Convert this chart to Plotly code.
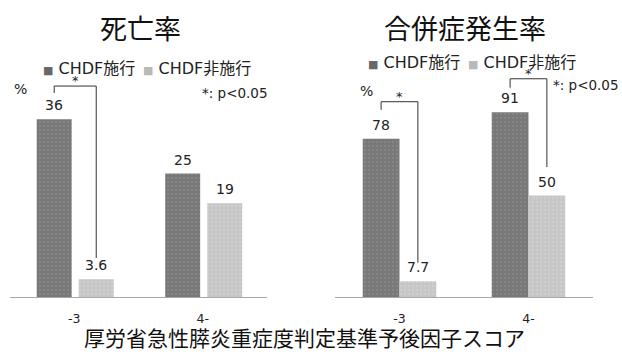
import plotly.graph_objects as go

# ---- data -------------------------------------------------------------
categories = ["-3", "4-"]
series_names = ["CHDF施行", "CHDF非施行"]
mortality_chdf = [36, 25]
mortality_no_chdf = [3.6, 19]
complication_chdf = [78, 91]
complication_no_chdf = [7.7, 50]

panel_titles = ["死亡率", "合併症発生率"]
x_title = "厚労省急性膵炎重症度判定基準予後因子スコア"
sig_note = "*: p<0.05"

# ---- styling ----------------------------------------------------------
W, H = 622, 355
FONT = "DejaVu Sans, Noto Sans CJK JP, sans-serif"
CJK = "Noto Sans CJK JP, sans-serif"
DARK, LIGHT = "#787878", "#c6c6c6"
DARK_DOT, LIGHT_DOT = "#929292", "#dadada"
DARK_KEY, LIGHT_KEY = "#686868", "#b9b9b9"

def px(x):
    return x / W

def py(y):
    return 1 - y / H

# bar geometry per panel: (width, offset of first series, offset of second)
geom = {
    "x": (0.272, -0.292, 0.035),
    "x2": (0.285, -0.285, 0.0),
}

fig = go.Figure()

panels = [
    ("x", "y", mortality_chdf, mortality_no_chdf),
    ("x2", "y2", complication_chdf, complication_no_chdf),
]

annotations = []
for xa, ya, s1, s2 in panels:
    w, o1, o2 = geom[xa]
    for vals, off, col, dot, name in ((s1, o1, DARK, DARK_DOT, series_names[0]),
                                      (s2, o2, LIGHT, LIGHT_DOT, series_names[1])):
        fig.add_trace(go.Bar(
            x=categories, y=vals, name=name, xaxis=xa, yaxis=ya,
            width=w, offset=off,
            marker=dict(
                color=col, line=dict(color=col, width=0),
                pattern=dict(shape=".", fgcolor=dot, bgcolor=col,
                             size=4, solidity=0.25),
            ),
            showlegend=False, hoverinfo="skip",
        ))
        for i, v in enumerate(vals):
            annotations.append(dict(
                x=i + off + w / 2, y=v, xref=xa, yref=ya,
                text=f"{v:g}", showarrow=False, yanchor="bottom",
                yshift=4, font=dict(size=14, color="#222", family=FONT),
            ))

# significance brackets: (axis, category index, top, left drop, right end)
brackets = [
    ("x", "y", 0, 42.7, 1.4, 7.9),
    ("x2", "y2", 0, 96.2, 4.0, 16.9),
    ("x2", "y2", 1, 107.5, 4.4, 64.0),
]
shapes = []
for xa, ya, i, top, drop, end in brackets:
    w, o1, o2 = geom[xa]
    xl = i + o1 + w / 2
    xr = i + o2 + w / 2
    shapes.append(dict(
        type="path", xref=xa, yref=ya,
        path=f"M {xl} {top - drop} L {xl} {top} L {xr} {top} L {xr} {end}",
        line=dict(color="#333", width=1),
    ))
    annotations.append(dict(
        x=(xl + xr) / 2, y=top, xref=xa, yref=ya, text="*",
        showarrow=False, yanchor="bottom", yshift=-4,
        font=dict(size=13, color="#222", family=FONT),
    ))

# panel titles
for t, cx in zip(panel_titles, (140, 465)):
    annotations.append(dict(
        x=px(cx), y=py(27), xref="paper", yref="paper", text=t,
        showarrow=False, xanchor="center", yanchor="middle",
        font=dict(size=27, color="#111", family=CJK),
    ))

# legend keys
legend_items = [
    (43, 69, DARK_KEY, series_names[0]),
    (143, 69, LIGHT_KEY, series_names[1]),
    (368, 63, DARK_KEY, series_names[0]),
    (468, 63, LIGHT_KEY, series_names[1]),
]
for lx, ly, col, name in legend_items:
    annotations.append(dict(
        x=px(lx - 2), y=py(ly), xref="paper", yref="paper",
        text=f'<span style="color:{col};font-size:11px">■</span> {name}',
        showarrow=False, xanchor="left", yanchor="middle",
        font=dict(size=16, color="#222", family=FONT),
    ))

# unit labels and significance notes
for cx, cy in ((20, 89), (366, 91)):
    annotations.append(dict(
        x=px(cx), y=py(cy), xref="paper", yref="paper", text="%",
        showarrow=False, xanchor="center", yanchor="middle",
        font=dict(size=14, color="#222", family=FONT),
    ))
for ax, anchor, cy in ((200, "left", 93), (621, "right", 85)):
    annotations.append(dict(
        x=px(ax), y=py(cy), xref="paper", yref="paper", text=sig_note,
        showarrow=False, xanchor=anchor, yanchor="middle",
        font=dict(size=13.5, color="#222", family=FONT),
    ))

# shared x-axis title
annotations.append(dict(
    x=px(304), y=py(354), xref="paper", yref="paper", text=x_title,
    showarrow=False, xanchor="center", yanchor="bottom",
    font=dict(size=21, color="#111", family=CJK),
))

xaxis_common = dict(
    type="category", range=[-0.5, 1.5], showline=True,
    linecolor="#a8a8a8", linewidth=1, ticks="", showgrid=False,
    zeroline=False, tickfont=dict(size=12.5, color="#222", family=FONT),
    ticklabelstandoff=10, fixedrange=True,
)
yaxis_common = dict(
    showticklabels=False, showgrid=False, zeroline=False,
    showline=False, ticks="", domain=[py(297), py(60)], fixedrange=True,
)

fig.update_layout(
    width=W, height=H,
    margin=dict(l=0, r=0, t=0, b=0),
    paper_bgcolor="white", plot_bgcolor="white",
    font=dict(family=FONT),
    barmode="overlay",
    xaxis=dict(domain=[px(10), px(267)], anchor="y", **xaxis_common),
    xaxis2=dict(domain=[px(335), px(593)], anchor="y2", **xaxis_common),
    yaxis=dict(range=[0, 237 / 4.94], anchor="x", **yaxis_common),
    yaxis2=dict(range=[0, 237 / 2.03], anchor="x2", **yaxis_common),
    shapes=shapes,
    annotations=annotations,
)

fig.write_html("out.html", config={"displayModeBar": False})
